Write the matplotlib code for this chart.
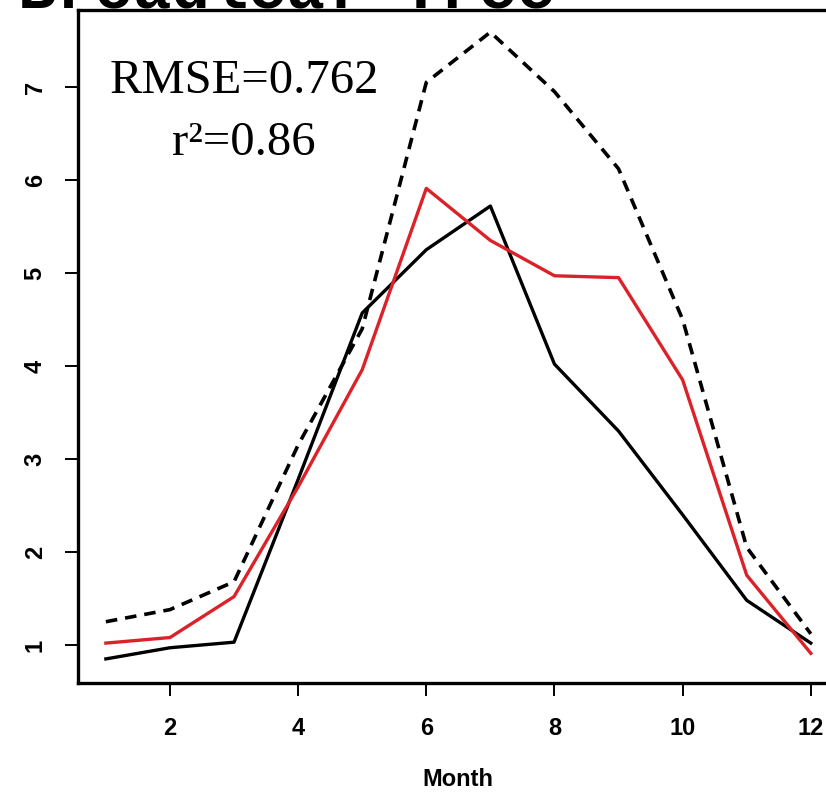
import numpy as np
import matplotlib
matplotlib.use("Agg")
import matplotlib.pyplot as plt

# monthly values
months = np.arange(1, 13)
observed = [0.85, 0.97, 1.03, 2.78, 4.57, 5.25, 5.72, 4.02, 3.30, 2.40, 1.48, 1.02]
modelled = [1.02, 1.08, 1.52, 2.70, 3.96, 5.91, 5.35, 4.97, 4.95, 3.85, 1.75, 0.91]
upper = [1.25, 1.38, 1.68, 3.15, 4.40, 7.05, 7.59, 6.95, 6.12, 4.50, 2.05, 1.12]
xticks = [2, 4, 6, 8, 10, 12]
yticks = [1, 2, 3, 4, 5, 6, 7]

tick_font = ['Liberation Sans Narrow', 'Liberation Sans', 'DejaVu Sans']

fig = plt.figure(figsize=(8.26, 7.95), dpi=100)
ax = fig.add_axes([78 / 826, 1 - 683 / 795, (839 - 78) / 826, (683 - 10) / 795])

ax.plot(months, upper, color='black', lw=2.6, ls=(0, (3.2, 2.2)))
ax.plot(months, observed, color='black', lw=2.4)
ax.plot(months, modelled, color='#dc2229', lw=2.4)

ax.set_xlim(0.565, 12.44)
ax.set_ylim(0.591, 7.828)
ax.set_xticks(xticks)
ax.set_yticks(yticks)
ax.set_xticklabels([str(t) for t in xticks], family=tick_font, weight='bold', size=17)
ax.set_yticklabels([str(t) for t in yticks], family=tick_font, weight='bold', size=17,
                   rotation=90, va='center')
ax.tick_params(axis='both', length=9.5, width=1.4, color='black')
ax.tick_params(axis='x', pad=15)
ax.tick_params(axis='y', pad=13)
for s in ax.spines.values():
    s.set_linewidth(2.4)

fig.text(458 / 826, 1 - 780 / 795, 'Month', ha='center', va='center',
         family=tick_font, weight='bold', size=17)

fig.text(244 / 826, 1 - 93 / 795, 'RMSE=0.762', ha='center', va='baseline',
         family='Liberation Serif', size=35)
fig.text(244 / 826, 1 - 155 / 795, 'r²=0.86', ha='center', va='baseline',
         family='Liberation Serif', size=35)

fig.text(18 / 826, 1 - 8 / 795, 'Broadleaf Tree', ha='left', va='baseline',
         family=['Liberation Mono', 'DejaVu Sans Mono'], weight='bold', size=46)

fig.savefig('out.png', dpi=100)
